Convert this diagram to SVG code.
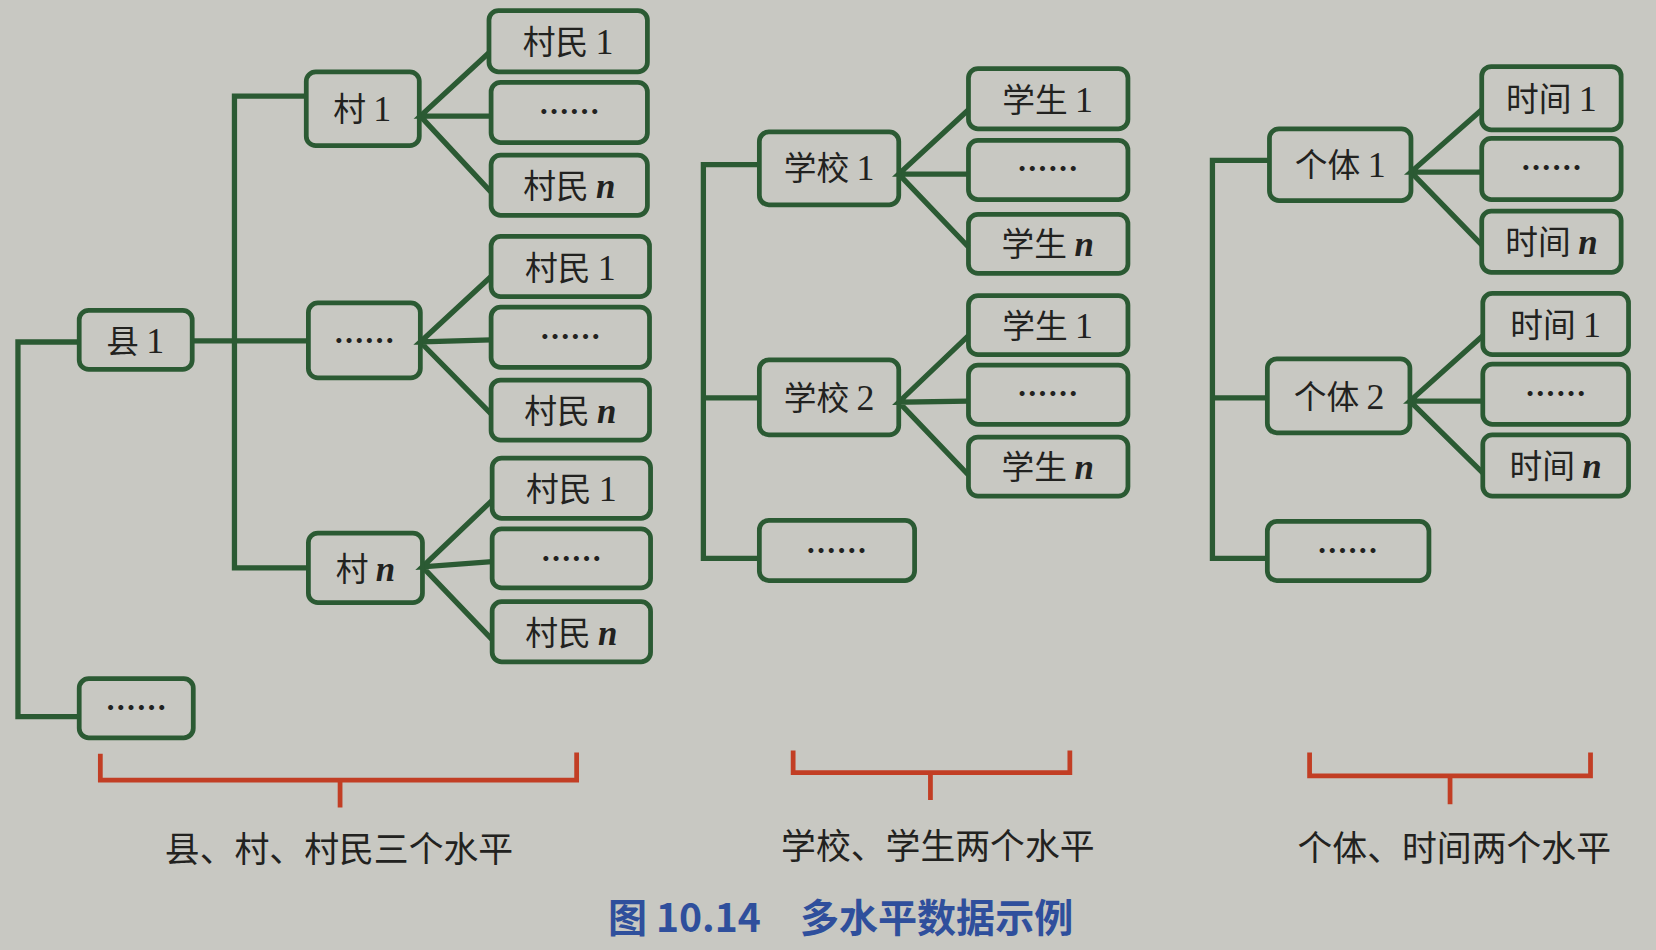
<svg xmlns="http://www.w3.org/2000/svg" width="1656" height="950" viewBox="0 0 1656 950">
<style>
.bx{fill:none;stroke:#2b5a33;stroke-width:4.5}
.ln{fill:none;stroke:#2b5a33;stroke-width:5;stroke-linejoin:miter}
.br{fill:none;stroke:#c23e24;stroke-width:4.5}
.t{font-family:"Noto Sans CJK SC","Noto Sans",sans-serif;font-size:31px;fill:#222220;text-anchor:middle}
.d{font-family:"Noto Sans CJK SC",sans-serif;font-size:29px;fill:#222220;text-anchor:middle;font-weight:bold}
.nm{font-family:"Liberation Serif",serif;font-size:34px}
.it{font-family:"Liberation Serif",serif;font-size:33px;font-style:italic;font-weight:bold}
.lb{font-family:"Noto Sans CJK SC",sans-serif;font-size:33px;fill:#222220;text-anchor:middle}
.ti{font-family:"Noto Sans CJK SC",sans-serif;font-size:37px;fill:#2f4f9c;text-anchor:middle;font-weight:bold}
</style>
<rect x="0" y="0" width="1656" height="950" fill="#c8c8c2"/>
<g transform="scale(1.05612,1.05556)">
<g id="connectors">
<path class="ln" d="M75,324 H17 V679 H75"/>
<path class="ln" d="M182,323 H292"/>
<path class="ln" d="M290,91 H222 V538 H292"/>
<path class="ln" d="M463,50 L398,110 L463,110 M398,110 L465,182"/>
<path class="ln" d="M465,262 L398,324 L465,322 M398,324 L465,392"/>
<path class="ln" d="M466,474 L400,537 L466,532 M400,537 L466,606"/>
<path class="ln" d="M719,156 H666 V529 H719 M666,377 H719"/>
<path class="ln" d="M917,104 L851,165 L917,165 M851,165 L917,234"/>
<path class="ln" d="M917,318 L851,381 L917,380 M851,381 L917,450"/>
<path class="ln" d="M1202,152 H1148 V529 H1200 M1148,377 H1200"/>
<path class="ln" d="M1403,104 L1336,163 L1403,163 M1336,163 L1403,232"/>
<path class="ln" d="M1404,318 L1335,380 L1404,380 M1335,380 L1404,448"/>
</g>
<g id="n-xian1"><rect class="bx" x="75" y="294" width="107" height="56" rx="9"/><text class="t" x="128" y="334">县 <tspan class="nm">1</tspan></text></g>
<g id="n-xian-more"><rect class="bx" x="75" y="643" width="108" height="56" rx="9"/><text class="d" x="129" y="681">……</text></g>
<g id="n-cun1"><rect class="bx" x="290" y="68" width="107" height="70" rx="9"/><text class="t" x="343" y="115">村 <tspan class="nm">1</tspan></text></g>
<g id="n-cun-more"><rect class="bx" x="292" y="287" width="106" height="71" rx="9"/><text class="d" x="345" y="333">……</text></g>
<g id="n-cunn"><rect class="bx" x="292" y="505" width="108" height="66" rx="9"/><text class="t" x="346" y="550">村 <tspan class="it">n</tspan></text></g>
<g id="n-a1"><rect class="bx" x="463" y="10" width="150" height="58" rx="9"/><text class="t" x="538" y="51">村民 <tspan class="nm">1</tspan></text></g>
<g id="n-a2"><rect class="bx" x="465" y="78" width="148" height="57" rx="9"/><text class="d" x="539" y="117">……</text></g>
<g id="n-a3"><rect class="bx" x="465" y="147" width="148" height="57" rx="9"/><text class="t" x="539" y="188">村民 <tspan class="it">n</tspan></text></g>
<g id="n-b1"><rect class="bx" x="465" y="224" width="150" height="57" rx="9"/><text class="t" x="540" y="265">村民 <tspan class="nm">1</tspan></text></g>
<g id="n-b2"><rect class="bx" x="465" y="291" width="150" height="57" rx="9"/><text class="d" x="540" y="330">……</text></g>
<g id="n-b3"><rect class="bx" x="465" y="360" width="150" height="57" rx="9"/><text class="t" x="540" y="401">村民 <tspan class="it">n</tspan></text></g>
<g id="n-c1"><rect class="bx" x="466" y="434" width="150" height="57" rx="9"/><text class="t" x="541" y="475">村民 <tspan class="nm">1</tspan></text></g>
<g id="n-c2"><rect class="bx" x="466" y="501" width="150" height="56" rx="9"/><text class="d" x="541" y="540">……</text></g>
<g id="n-c3"><rect class="bx" x="466" y="570" width="150" height="57" rx="9"/><text class="t" x="541" y="611">村民 <tspan class="it">n</tspan></text></g>
<g id="n-school1"><rect class="bx" x="719" y="125" width="132" height="69" rx="9"/><text class="t" x="785" y="171">学校 <tspan class="nm">1</tspan></text></g>
<g id="n-school2"><rect class="bx" x="719" y="341" width="132" height="71" rx="9"/><text class="t" x="785" y="388">学校 <tspan class="nm">2</tspan></text></g>
<g id="n-school-more"><rect class="bx" x="719" y="493" width="147" height="57" rx="9"/><text class="d" x="792" y="532">……</text></g>
<g id="n-s1"><rect class="bx" x="917" y="65" width="151" height="57" rx="9"/><text class="t" x="992" y="106">学生 <tspan class="nm">1</tspan></text></g>
<g id="n-s2"><rect class="bx" x="917" y="133" width="151" height="56" rx="9"/><text class="d" x="992" y="171">……</text></g>
<g id="n-s3"><rect class="bx" x="917" y="203" width="151" height="56" rx="9"/><text class="t" x="992" y="243">学生 <tspan class="it">n</tspan></text></g>
<g id="n-s4"><rect class="bx" x="917" y="280" width="151" height="56" rx="9"/><text class="t" x="992" y="320">学生 <tspan class="nm">1</tspan></text></g>
<g id="n-s5"><rect class="bx" x="917" y="346" width="151" height="56" rx="9"/><text class="d" x="992" y="384">……</text></g>
<g id="n-s6"><rect class="bx" x="917" y="414" width="151" height="56" rx="9"/><text class="t" x="992" y="454">学生 <tspan class="it">n</tspan></text></g>
<g id="n-ind1"><rect class="bx" x="1202" y="122" width="134" height="68" rx="9"/><text class="t" x="1269" y="168">个体 <tspan class="nm">1</tspan></text></g>
<g id="n-ind2"><rect class="bx" x="1200" y="340" width="135" height="70" rx="9"/><text class="t" x="1268" y="387">个体 <tspan class="nm">2</tspan></text></g>
<g id="n-ind-more"><rect class="bx" x="1200" y="494" width="153" height="56" rx="9"/><text class="d" x="1276" y="532">……</text></g>
<g id="n-t1"><rect class="bx" x="1403" y="63" width="132" height="60" rx="9"/><text class="t" x="1469" y="105">时间 <tspan class="nm">1</tspan></text></g>
<g id="n-t2"><rect class="bx" x="1403" y="131" width="132" height="58" rx="9"/><text class="d" x="1469" y="170">……</text></g>
<g id="n-t3"><rect class="bx" x="1403" y="200" width="132" height="58" rx="9"/><text class="t" x="1469" y="241">时间 <tspan class="it">n</tspan></text></g>
<g id="n-t4"><rect class="bx" x="1404" y="278" width="138" height="58" rx="9"/><text class="t" x="1473" y="319">时间 <tspan class="nm">1</tspan></text></g>
<g id="n-t5"><rect class="bx" x="1404" y="345" width="138" height="57" rx="9"/><text class="d" x="1473" y="384">……</text></g>
<g id="n-t6"><rect class="bx" x="1404" y="412" width="138" height="58" rx="9"/><text class="t" x="1473" y="453">时间 <tspan class="it">n</tspan></text></g>
<g id="braces">
<path class="br" d="M95,714 V739 H546 V713 M322,739 V765"/>
<path class="br" d="M751,711 V732 H1013 V711 M881,732 V758"/>
<path class="br" d="M1240,713 V735 H1506 V713 M1373,735 V762"/>
</g>
<text class="lb" x="321" y="817">县、村、村民三个水平</text>
<text class="lb" x="888" y="814">学校、学生两个水平</text>
<text class="lb" x="1377" y="816">个体、时间两个水平</text>
<text class="ti" x="796" y="883">图 10.14　多水平数据示例</text>
</g>
</svg>
